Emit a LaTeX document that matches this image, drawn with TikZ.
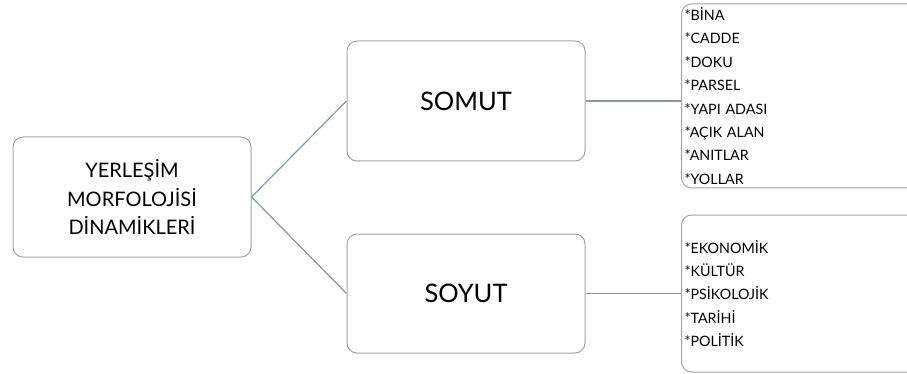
\documentclass[tikz,border=0pt]{standalone}
\usepackage{fontspec}
\setmainfont{Lato}
\usepackage{tikz}
\usetikzlibrary{positioning}
\definecolor{BoxGray}{HTML}{A4A4A4}
\definecolor{LinkBlue}{HTML}{8698A6}

\begin{document}
\begin{tikzpicture}[x=1pt, y=-1pt, line width=1pt,
MainBox/.style={draw=BoxGray, rounded corners=10pt, minimum width=238pt, minimum height=120pt, align=center, inner sep=0pt},
ListBox/.style={draw=BoxGray, rounded corners=10pt, minimum width=240pt, align=left, inner sep=0pt, text width=234pt, font=\fontsize{14.3}{23.4}\selectfont},
Link/.style={draw=LinkBlue, line width=1.2pt}]
\useasboundingbox (0,0) rectangle (907,374);
\node [MainBox, font=\fontsize{20}{28.5}\selectfont] (root) at (132,197) {YERLEŞİM\\MORFOLOJİSİ\\DİNAMİKLERİ};
\node [MainBox, font=\fontsize{25.5}{30}\selectfont] (somut) at (466,101) {SOMUT};
\node [MainBox, minimum height=119pt, font=\fontsize{25.5}{30}\selectfont] (soyut) at (466,293.5) {SOYUT};
\node [ListBox, minimum height=184pt, anchor=west] (somutList) at (681,96) {{*}BİNA\\{*}CADDE\\{*}DOKU\\{*}PARSEL\\{*}YAPI ADASI\\{*}AÇIK ALAN\\{*}ANITLAR\\{*}YOLLAR};
\node [ListBox, minimum height=157pt, anchor=west] (soyutList) at (681,293.5) {{*}EKONOMİK\\{*}KÜLTÜR\\{*}PSİKOLOJİK\\{*}TARİHİ\\{*}POLİTİK};
% connectors
\foreach \child in {somut, soyut}
  \draw [Link] (root.east) -- (\child.west);
\draw [Link] (somut.east) -- (somut.east -| somutList.west);
\draw [Link] (soyut.east) -- (soyut.east -| soyutList.west);
\end{tikzpicture}
\end{document}
